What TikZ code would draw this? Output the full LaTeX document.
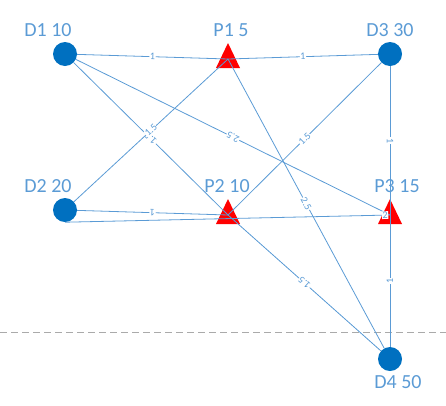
\documentclass[tikz,border=0pt]{standalone}
\usepackage{fontspec}
\setmainfont{Carlito}
\definecolor{dotblue}{RGB}{0,112,192}
\definecolor{edgeblue}{RGB}{91,155,213}
\definecolor{rulegray}{RGB}{170,170,170}
\begin{document}
\begin{tikzpicture}[x=1pt, y=-1pt,
	demand/.style={circle, fill=dotblue, minimum size=24pt, inner sep=0pt},
	tag/.style={text=edgeblue, inner sep=0pt, font=\fontsize{20}{20}\selectfont},
	edge/.style={draw=edgeblue, line width=0.8pt},
	wt/.style={sloped, allow upside down, fill=white, inner sep=0.6pt, text=edgeblue, font=\fontsize{10}{10}\selectfont}]
	\useasboundingbox (0,0) rectangle (446,405);
	% duong ngang
	\coordinate (L) at (0,332);
	\coordinate (R) at (446,332);
	\draw[rulegray, line width=0.8pt, dash pattern=on 7pt off 4pt] (L) -- (R);
	% diem cau
	\node[demand] (D1) at (65,54) {};
	\node[demand] (D2) at (65,210) {};
	\node[demand] (D3) at (390,54) {};
	\node[demand] (D4) at (390,359) {};
	% diem cung
	\foreach \p/\x/\y in {P1/228/59, P2/228/215, P3/390/215} {
		\coordinate (\p) at (\x,\y);
		\fill[red] (\x,\y-16) -- (\x+12,\y+9) -- (\x-12,\y+9) -- cycle;
	}
	\node[tag] (tD1) at (48,30) {D1 10};
	\node[tag] (tD2) at (48,186) {D2 20};
	\node[tag] (tD3) at (390,30) {D3 30};
	\node[tag] (tD4) at (398,382) {D4 50};
	\node[tag] (tP1) at (231,30) {P1 5};
	\node[tag] (tP2) at (227,186) {P2 10};
	\node[tag] (tP3) at (397,186) {P3 15};
	% canh
	\foreach \a/\b/\w in {D1/P1/1, P1/D3/1, P2/D2/1, P2/D1/1.5, D2/P1/1.5, P3/D1/2.5, P2/D3/1.5, P1/D4/2.5, D4/P2/1.5, D3/P3/1, D4/P3/1}
		\draw[edge] (\a) -- node[wt] {\w} (\b);
	\draw[edge] (D2.south) -- node[wt, pos=0.985] {2} (P3);
\end{tikzpicture}
\end{document}
